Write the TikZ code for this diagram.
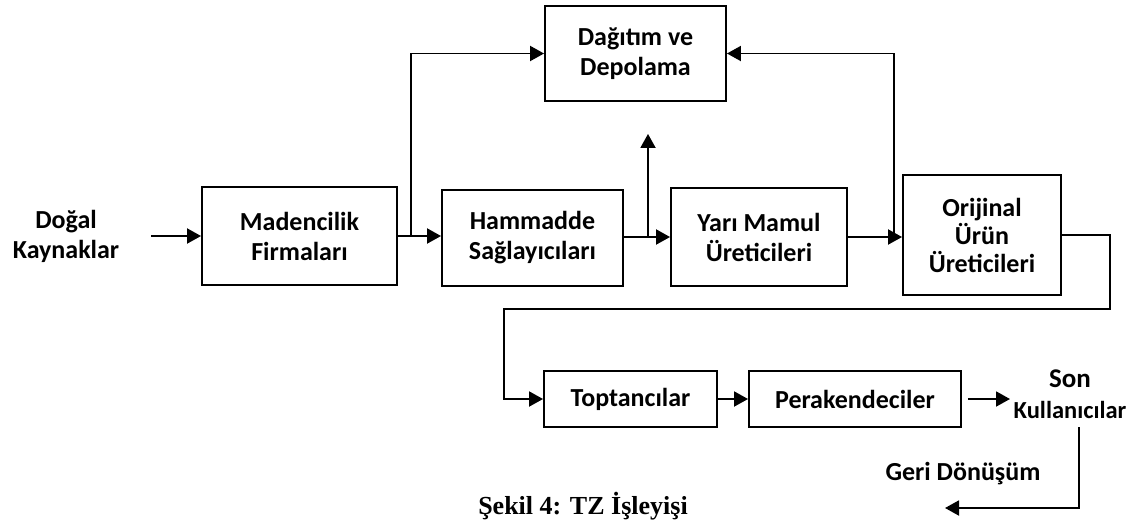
\documentclass[tikz,border=0pt]{standalone}
\usepackage{fontspec}
\setmainfont{Carlito}
\newfontfamily\capfont{Liberation Serif}
\usetikzlibrary{arrows.meta,calc}
\begin{document}
\begin{tikzpicture}[x=1pt,y=-1pt,
  every node/.style={font=\fontsize{26}{30}\selectfont\bfseries, align=center, inner sep=0pt},
  box/.style={draw, line width=1.9pt, minimum width=#1},
  arr/.style={line width=1.9pt, -{Triangle[length=14pt,width=15pt]}}]
\useasboundingbox (0,0) rectangle (1143,525);

% supply chain stages
\node[box=195pt, minimum height=98pt] (mad) at (299.5,236) {Madencilik\\Firmaları};
\node[box=181pt, minimum height=96pt] (ham) at (532.5,238) {Hammadde\\Sağlayıcıları};
\node[box=176pt, minimum height=98pt] (yari) at (759,237) {Yarı Mamul\\Üreticileri};
\node[box=158pt, minimum height=120pt, font=\fontsize{26}{28}\selectfont\bfseries] (ori) at (982,235) {Orijinal\\Ürün\\Üreticileri};
\node[box=181pt, minimum height=95pt] (dag) at (635.5,53.5) {Dağıtım ve\\Depolama};
\node[box=173pt, minimum height=56pt] (top) at (630.5,399) {Toptancılar};
\node[box=212pt, minimum height=56pt] (per) at (855,399) {Perakendeciler};

% free labels
\node (dogal) at (66,236) {Doğal\\Kaynaklar};
\node[font=\fontsize{24.5}{31}\selectfont\bfseries] (son) at (1070,394) {{\fontsize{27}{31}\selectfont Son}\\Kullanıcılar};
\node (geri) at (963,474) {Geri Dönüşüm};
\node[font=\capfont\fontsize{26}{30}\selectfont\bfseries] (cap) at (583,506) {Şekil 4: TZ İşleyişi};

% main flow
\draw[arr] ([xshift=32pt]dogal.east) -- (mad.west);
\draw[arr] (mad.east) -- (mad.east -| ham.west);
\draw[arr] (ham.east |- yari.west) -- (yari.west);
\draw[arr] (yari.east) -- (yari.east -| ori.west);

% branches towards distribution
\draw[arr] ($(mad.east)+(13,0)$) |- (dag.west);
\coordinate (upend) at ($(dag.south)+(12.5,32)$);
\draw[arr] (upend |- yari.west) -- (upend);
\draw[arr] ($(yari.east)+(46,0)$) |- (dag.east);

% down to wholesale
\draw[arr] (ori.east) -- ++(48,0) |- ($(top.west)+(-39,-90)$) |- (top.west);
\draw[arr] (top.east) -- (per.west);
\coordinate (sonin) at (1010,399);
\draw[arr] ([xshift=6pt]per.east) -- (sonin);

% recycling
\coordinate (sonout) at (1079,427);
\coordinate (back) at (945,508);
\draw[arr] (sonout) |- (back);
\end{tikzpicture}
\end{document}
